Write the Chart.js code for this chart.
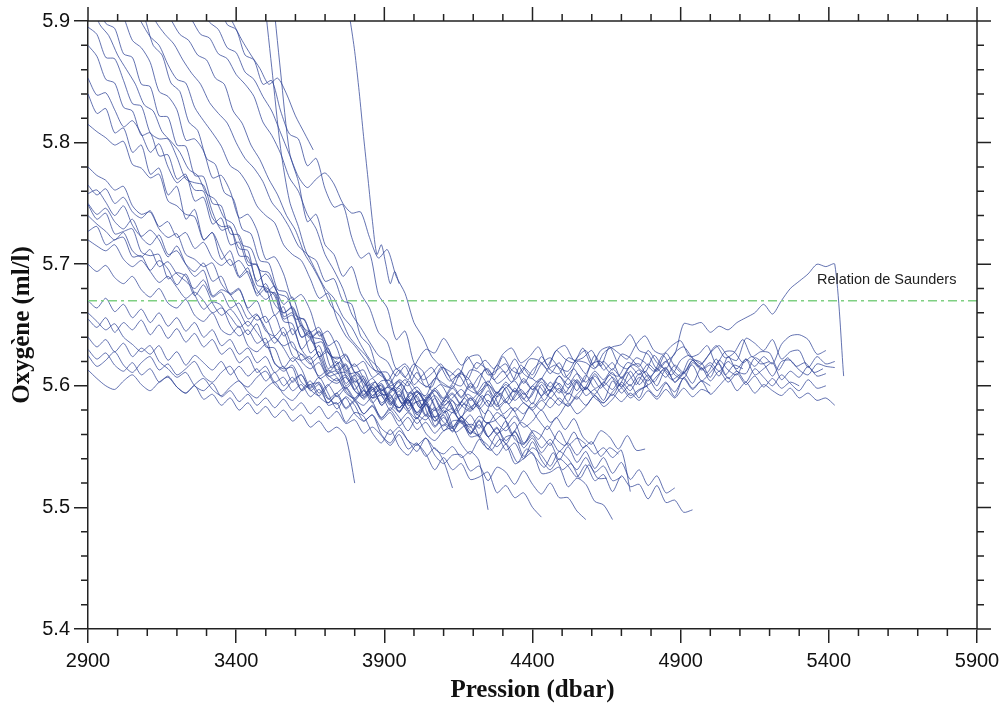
<!DOCTYPE html>
<html>
<head>
<meta charset="utf-8">
<script src="https://cdn.jsdelivr.net/npm/chart.js@4"></script>
<style>
  html, body { margin: 0; padding: 0; background: #fff; }
  canvas { display: block; }
</style>
</head>
<body>
<canvas id="chart" width="1007" height="711"></canvas>
<script>
// ── Axis ranges and ticks ───────────────────────────────
const X_MIN = 2900, X_MAX = 5900;
const Y_MIN = 5.4, Y_MAX = 5.9;
const X_TICKS = [2900, 3400, 3900, 4400, 4900, 5400, 5900];
const Y_TICKS = [5.4, 5.5, 5.6, 5.7, 5.8, 5.9];
const X_MINOR = 100;   // dbar between small ticks
const Y_MINOR = 0.02;  // ml/l between small ticks

// ── Saunders reference level ────────────────────────────
const SAUNDERS_O2 = 5.67;
const SAUNDERS_LABEL = "Relation de Saunders";
const SAUNDERS_LABEL_AT = [5360, 5.684];

// ── Oxygen profiles (ml/l), one value every STEP dbar from START ──
const oxyS01 = [5.895, 5.889, 5.870, 5.869, 5.851, 5.832, 5.830, 5.808, 5.803, 5.803, 5.788, 5.770, 5.767, 5.765, 5.743, 5.728, 5.730, 5.713, 5.711, 5.683, 5.681, 5.674, 5.653, 5.651, 5.630, 5.638, 5.623, 5.608, 5.610, 5.611, 5.601, 5.589, 5.597, 5.600, 5.586, 5.579, 5.588, 5.578, 5.587, 5.567, 5.577, 5.581, 5.569, 5.576, 5.565, 5.580, 5.570, 5.563, 5.570, 5.553, 5.562];
const oxyS02 = [5.880, 5.871, 5.852, 5.849, 5.829, 5.826, 5.806, 5.808, 5.789, 5.790, 5.770, 5.774, 5.752, 5.755, 5.733, 5.738, 5.716, 5.718, 5.699, 5.700, 5.677, 5.682, 5.657, 5.660, 5.640, 5.645, 5.624, 5.631, 5.611, 5.617, 5.597, 5.606, 5.590, 5.601, 5.585, 5.596, 5.581, 5.592, 5.576, 5.590, 5.578, 5.588, 5.574, 5.590, 5.583, 5.596, 5.584, 5.599, 5.588, 5.594, 5.585, 5.601, 5.590, 5.598, 5.587, 5.603, 5.592, 5.597, 5.588, 5.604, 5.594, 5.601, 5.590, 5.606, 5.596, 5.603, 5.591, 5.607, 5.598, 5.604, 5.600];
const oxyS03 = [5.853, 5.839, 5.841, 5.827, 5.813, 5.818, 5.807, 5.792, 5.799, 5.780, 5.767, 5.772, 5.761, 5.760, 5.738, 5.731, 5.731, 5.707, 5.706, 5.686, 5.692, 5.681, 5.667, 5.673, 5.652, 5.640, 5.645, 5.631, 5.618, 5.625, 5.611, 5.613, 5.597, 5.604, 5.604, 5.589, 5.579, 5.587, 5.575, 5.582, 5.563, 5.571, 5.571, 5.558, 5.559, 5.548, 5.560, 5.547, 5.553, 5.540, 5.554, 5.539, 5.531, 5.540, 5.534, 5.525, 5.535, 5.522, 5.527, 5.513, 5.526, 5.517, 5.519, 5.507, 5.518, 5.504, 5.506, 5.496, 5.498];
const oxyS04 = [5.840, 5.824, 5.828, 5.808, 5.812, 5.792, 5.798, 5.774, 5.779, 5.757, 5.764, 5.737, 5.745, 5.720, 5.726, 5.704, 5.711, 5.690, 5.697, 5.674, 5.680, 5.658, 5.665, 5.642, 5.650, 5.627, 5.633, 5.614, 5.620, 5.602, 5.609, 5.591, 5.599, 5.584, 5.593, 5.578, 5.588, 5.573, 5.584, 5.571, 5.580, 5.566, 5.575, 5.560, 5.571, 5.558, 5.566, 5.552, 5.563, 5.549, 5.557, 5.545, 5.553, 5.539, 5.550, 5.537, 5.546, 5.532, 5.541, 5.528, 5.537, 5.523, 5.531, 5.518, 5.526, 5.512, 5.516];
const oxyS05 = [5.780, 5.773, 5.769, 5.761, 5.764, 5.748, 5.741, 5.743, 5.729, 5.722, 5.725, 5.708, 5.704, 5.698, 5.701, 5.684, 5.676, 5.680, 5.662, 5.654, 5.657, 5.640, 5.633, 5.636, 5.620, 5.614, 5.619, 5.606, 5.602, 5.607, 5.596, 5.592, 5.601, 5.593, 5.594, 5.605, 5.600, 5.611, 5.599, 5.606, 5.615, 5.603, 5.600, 5.613, 5.611, 5.602, 5.617, 5.611, 5.622, 5.610, 5.606, 5.618, 5.623, 5.615, 5.612, 5.623, 5.629, 5.615, 5.620, 5.613, 5.626, 5.623, 5.616, 5.629, 5.619, 5.614, 5.627, 5.632, 5.623, 5.618, 5.627, 5.633, 5.624, 5.621, 5.639, 5.635, 5.629, 5.638, 5.622, 5.628, 5.629, 5.615, 5.624, 5.618, 5.620];
const oxyS06 = [5.758, 5.761, 5.751, 5.740, 5.748, 5.732, 5.723, 5.728, 5.720, 5.706, 5.715, 5.700, 5.690, 5.695, 5.674, 5.679, 5.675, 5.662, 5.649, 5.658, 5.647, 5.635, 5.644, 5.625, 5.621, 5.624, 5.606, 5.610, 5.612, 5.596, 5.589, 5.596, 5.587, 5.573, 5.582, 5.574, 5.563, 5.574, 5.561, 5.555, 5.563, 5.565, 5.552, 5.544, 5.556, 5.551, 5.543, 5.552, 5.536, 5.540, 5.545, 5.528, 5.529, 5.533, 5.517, 5.524, 5.519, 5.505, 5.502, 5.490];
const oxyS07 = [5.750, 5.741, 5.746, 5.735, 5.729, 5.737, 5.722, 5.716, 5.724, 5.708, 5.711, 5.700, 5.694, 5.701, 5.686, 5.690, 5.675, 5.679, 5.664, 5.670, 5.652, 5.658, 5.641, 5.647, 5.630, 5.622, 5.628, 5.611, 5.617, 5.600, 5.606, 5.593, 5.599, 5.584, 5.590, 5.579, 5.588, 5.576, 5.585, 5.574, 5.582, 5.578, 5.587, 5.580, 5.592, 5.583, 5.595, 5.586, 5.598, 5.589, 5.600, 5.592, 5.603, 5.594, 5.606, 5.596, 5.609, 5.598, 5.603, 5.611, 5.599, 5.606, 5.613, 5.601, 5.608, 5.615, 5.603, 5.610, 5.617, 5.604, 5.611, 5.618, 5.606, 5.612, 5.603, 5.614, 5.607, 5.600, 5.609, 5.602, 5.596, 5.605, 5.598, 5.600];
const oxyS08 = [5.749, 5.737, 5.742, 5.725, 5.727, 5.729, 5.710, 5.707, 5.708, 5.688, 5.693, 5.690, 5.674, 5.683, 5.668, 5.658, 5.663, 5.654, 5.642, 5.651, 5.632, 5.631, 5.615, 5.623, 5.614, 5.599, 5.607, 5.594, 5.581, 5.591, 5.584, 5.571, 5.576, 5.560, 5.553, 5.563, 5.555, 5.546, 5.557, 5.543, 5.536, 5.543, 5.543, 5.530, 5.534, 5.522, 5.533, 5.529, 5.519, 5.530, 5.519, 5.511, 5.520, 5.508, 5.508, 5.497, 5.490];
const oxyS09 = [5.740, 5.733, 5.727, 5.720, 5.726, 5.711, 5.706, 5.712, 5.698, 5.702, 5.692, 5.686, 5.680, 5.687, 5.673, 5.677, 5.664, 5.668, 5.655, 5.659, 5.645, 5.641, 5.648, 5.632, 5.626, 5.618, 5.624, 5.609, 5.604, 5.609, 5.596, 5.590, 5.597, 5.586, 5.592, 5.582, 5.589, 5.578, 5.585, 5.592, 5.584, 5.590, 5.597, 5.588, 5.595, 5.601, 5.591, 5.598, 5.604, 5.593, 5.600, 5.606, 5.595, 5.602, 5.593, 5.604, 5.597, 5.608, 5.599, 5.592, 5.603, 5.596, 5.607, 5.598, 5.591, 5.602, 5.595, 5.606, 5.597, 5.604, 5.593, 5.600, 5.607, 5.596, 5.603, 5.594, 5.601, 5.596, 5.592, 5.598, 5.590, 5.594, 5.588, 5.590, 5.584];
const oxyS10 = [5.727, 5.731, 5.716, 5.720, 5.722, 5.706, 5.707, 5.695, 5.703, 5.696, 5.683, 5.692, 5.675, 5.663, 5.669, 5.666, 5.650, 5.641, 5.646, 5.635, 5.639, 5.618, 5.614, 5.615, 5.596, 5.601, 5.602, 5.584, 5.586, 5.570, 5.578, 5.575, 5.561, 5.553, 5.564, 5.550, 5.543, 5.552, 5.544, 5.531, 5.541, 5.531, 5.536, 5.523, 5.525, 5.529, 5.512, 5.518, 5.508, 5.512, 5.500, 5.492];
const oxyS11 = [5.720, 5.715, 5.711, 5.716, 5.704, 5.698, 5.703, 5.694, 5.685, 5.690, 5.681, 5.672, 5.677, 5.670, 5.660, 5.664, 5.657, 5.648, 5.653, 5.644, 5.635, 5.640, 5.631, 5.620, 5.626, 5.619, 5.608, 5.613, 5.607, 5.598, 5.604, 5.597, 5.590, 5.596, 5.599, 5.591, 5.604, 5.596, 5.592, 5.606, 5.602, 5.598, 5.612, 5.598, 5.608, 5.614, 5.602, 5.607, 5.615, 5.602, 5.613, 5.619, 5.610, 5.619, 5.606, 5.620, 5.619, 5.614, 5.627, 5.632, 5.634, 5.642, 5.629, 5.626, 5.614, 5.627, 5.616, 5.610, 5.621, 5.619, 5.607, 5.621, 5.613, 5.609, 5.622, 5.609, 5.614, 5.619, 5.605, 5.612, 5.607, 5.616, 5.608, 5.610];
const oxyS12 = [5.700, 5.694, 5.699, 5.689, 5.684, 5.690, 5.679, 5.673, 5.680, 5.668, 5.664, 5.671, 5.658, 5.653, 5.660, 5.646, 5.642, 5.649, 5.633, 5.628, 5.634, 5.619, 5.612, 5.617, 5.603, 5.598, 5.603, 5.590, 5.585, 5.590, 5.577, 5.571, 5.576, 5.565, 5.560, 5.566, 5.555, 5.551, 5.557, 5.548, 5.544, 5.550, 5.541, 5.546, 5.538, 5.498];
const oxyS13 = [5.670, 5.664, 5.672, 5.661, 5.667, 5.656, 5.663, 5.652, 5.660, 5.649, 5.656, 5.645, 5.652, 5.640, 5.646, 5.633, 5.638, 5.626, 5.631, 5.619, 5.624, 5.611, 5.616, 5.603, 5.609, 5.596, 5.601, 5.589, 5.594, 5.582, 5.588, 5.577, 5.583, 5.572, 5.578, 5.567, 5.574, 5.564, 5.570, 5.561, 5.568, 5.563, 5.571, 5.566, 5.575, 5.569, 5.578, 5.573, 5.582, 5.577, 5.586, 5.580, 5.590, 5.584, 5.594, 5.589, 5.598, 5.593, 5.603, 5.597, 5.607, 5.600, 5.610, 5.604, 5.614, 5.607, 5.617, 5.611, 5.621, 5.614, 5.619, 5.612, 5.620, 5.614, 5.622, 5.616, 5.624, 5.618, 5.634, 5.641, 5.642, 5.638, 5.626, 5.629];
const oxyS14 = [5.655, 5.648, 5.656, 5.644, 5.652, 5.646, 5.654, 5.642, 5.650, 5.639, 5.647, 5.636, 5.643, 5.632, 5.638, 5.626, 5.631, 5.619, 5.624, 5.611, 5.616, 5.603, 5.607, 5.596, 5.601, 5.591, 5.597, 5.586, 5.592, 5.581, 5.587, 5.577, 5.584, 5.574, 5.580, 5.571, 5.578, 5.569, 5.576, 5.566, 5.574, 5.565, 5.572, 5.561, 5.568, 5.558, 5.565, 5.555, 5.562, 5.552, 5.559, 5.549, 5.556, 5.546, 5.553, 5.543, 5.551, 5.544, 5.549, 5.541, 5.547, 5.513];
const oxyS15 = [5.640, 5.632, 5.638, 5.628, 5.635, 5.624, 5.631, 5.626, 5.633, 5.621, 5.628, 5.617, 5.625, 5.619, 5.613, 5.620, 5.609, 5.616, 5.608, 5.614, 5.604, 5.611, 5.600, 5.607, 5.597, 5.604, 5.594, 5.601, 5.591, 5.598, 5.588, 5.596, 5.586, 5.594, 5.584, 5.593, 5.585, 5.595, 5.587, 5.596, 5.589, 5.598, 5.590, 5.600, 5.592, 5.601, 5.594, 5.603, 5.595, 5.604, 5.597, 5.606, 5.599, 5.608, 5.601, 5.610, 5.603, 5.612, 5.605, 5.614, 5.607, 5.616, 5.609, 5.618, 5.612, 5.620, 5.626, 5.651, 5.650, 5.652, 5.644, 5.649, 5.646, 5.652, 5.656, 5.660, 5.667, 5.659, 5.670, 5.680, 5.686, 5.692, 5.700, 5.698, 5.700, 5.608];
const oxyS16 = [5.625, 5.616, 5.621, 5.628, 5.617, 5.611, 5.619, 5.624, 5.613, 5.618, 5.609, 5.614, 5.620, 5.608, 5.603, 5.611, 5.616, 5.604, 5.599, 5.607, 5.612, 5.601, 5.596, 5.604, 5.609, 5.597, 5.592, 5.600, 5.606, 5.594, 5.590, 5.599, 5.606, 5.596, 5.602, 5.613, 5.605, 5.620, 5.630, 5.627, 5.639, 5.628, 5.617, 5.624, 5.625, 5.609, 5.613, 5.618, 5.605, 5.615, 5.609, 5.624, 5.613, 5.610, 5.623, 5.619, 5.610, 5.625, 5.613, 5.619, 5.606, 5.616, 5.618, 5.607, 5.613, 5.620, 5.609, 5.606, 5.619, 5.613, 5.617, 5.608, 5.624, 5.612, 5.610, 5.623, 5.618, 5.608, 5.620, 5.621, 5.613, 5.609, 5.618, 5.616, 5.615];
const oxyS17 = [5.613, 5.606, 5.600, 5.597, 5.604, 5.609, 5.601, 5.596, 5.603, 5.607, 5.599, 5.594, 5.601, 5.606, 5.597, 5.592, 5.599, 5.604, 5.595, 5.590, 5.598, 5.603, 5.593, 5.588, 5.596, 5.601, 5.591, 5.586, 5.594, 5.599, 5.589, 5.584, 5.592, 5.597, 5.587, 5.582, 5.590, 5.595, 5.585, 5.580, 5.588, 5.594, 5.584, 5.579, 5.587, 5.593, 5.583, 5.589, 5.596, 5.586, 5.582, 5.591, 5.597, 5.588, 5.584, 5.593, 5.599, 5.590, 5.586, 5.595, 5.601, 5.592, 5.597, 5.600];
const oxyS18 = [5.630, 5.622, 5.627, 5.617, 5.612, 5.619, 5.609, 5.614, 5.603, 5.608, 5.599, 5.594, 5.600, 5.589, 5.593, 5.584, 5.590, 5.580, 5.586, 5.577, 5.583, 5.574, 5.580, 5.571, 5.576, 5.566, 5.571, 5.562, 5.566, 5.558, 5.520];
const oxyS19 = [5.660, 5.653, 5.646, 5.651, 5.640, 5.634, 5.628, 5.633, 5.620, 5.614, 5.607, 5.611, 5.600, 5.596, 5.602, 5.591, 5.596, 5.587, 5.593, 5.584, 5.590, 5.582, 5.589, 5.580, 5.586, 5.577, 5.583, 5.573, 5.579, 5.569, 5.572, 5.561, 5.566, 5.559, 5.551, 5.560, 5.548, 5.553, 5.542, 5.549, 5.538, 5.516];
const oxyS20 = [5.765, 5.757, 5.762, 5.750, 5.755, 5.743, 5.738, 5.744, 5.731, 5.735, 5.722, 5.726, 5.713, 5.718, 5.705, 5.699, 5.704, 5.689, 5.694, 5.679, 5.671, 5.677, 5.660, 5.665, 5.650, 5.644, 5.648, 5.633, 5.637, 5.622, 5.616, 5.620, 5.607, 5.611, 5.600, 5.604, 5.594, 5.599, 5.590, 5.596, 5.587, 5.593, 5.584, 5.590, 5.581, 5.588, 5.580, 5.587, 5.579, 5.586, 5.580, 5.588, 5.582, 5.590, 5.583, 5.591, 5.584, 5.592, 5.586, 5.593, 5.587, 5.594, 5.588, 5.596, 5.589, 5.597, 5.590, 5.598, 5.591, 5.597, 5.594];
const oxyS21 = [5.815, 5.809, 5.804, 5.798, 5.801, 5.782, 5.779, 5.771, 5.774, 5.752, 5.748, 5.741, 5.739, 5.720, 5.726, 5.711, 5.699, 5.703, 5.692, 5.676, 5.684, 5.667, 5.660, 5.664, 5.648, 5.639, 5.644, 5.627, 5.622, 5.626, 5.611, 5.603, 5.590, 5.592, 5.580, 5.592, 5.580, 5.573, 5.585, 5.571, 5.576, 5.562, 5.574, 5.567, 5.558, 5.570, 5.560, 5.571, 5.556, 5.552, 5.563, 5.559, 5.551, 5.563, 5.551, 5.557, 5.552];
const oxyT01 = [5.915, 5.898, 5.894, 5.873, 5.870, 5.848, 5.846, 5.822, 5.821, 5.798, 5.797, 5.773, 5.772, 5.750, 5.748, 5.725, 5.724, 5.702, 5.699, 5.678, 5.676, 5.655, 5.658, 5.640, 5.643, 5.624, 5.628, 5.613, 5.618, 5.603, 5.608, 5.595, 5.602, 5.590, 5.598, 5.586, 5.596, 5.588, 5.598, 5.590, 5.600, 5.591, 5.602, 5.593, 5.604, 5.594, 5.601, 5.595, 5.606, 5.597, 5.603, 5.596, 5.608, 5.598, 5.605, 5.597, 5.610, 5.600, 5.607, 5.599, 5.612, 5.601, 5.609, 5.600, 5.614, 5.603, 5.611, 5.602, 5.615, 5.604, 5.612, 5.603, 5.610, 5.601, 5.608, 5.599, 5.606, 5.598, 5.603, 5.600];
const oxyT02 = [5.914, 5.903, 5.884, 5.878, 5.866, 5.842, 5.838, 5.827, 5.802, 5.803, 5.793, 5.771, 5.773, 5.760, 5.738, 5.741, 5.728, 5.704, 5.706, 5.692, 5.671, 5.675, 5.662, 5.641, 5.645, 5.631, 5.612, 5.618, 5.606, 5.592, 5.598, 5.588, 5.582, 5.589, 5.577, 5.572, 5.580, 5.570, 5.566, 5.574, 5.563, 5.560, 5.569, 5.561, 5.566, 5.575, 5.566, 5.571, 5.580, 5.570, 5.576, 5.586, 5.577, 5.583, 5.592, 5.583, 5.589, 5.598, 5.590, 5.596, 5.601];
const oxyT03 = [5.913, 5.899, 5.887, 5.880, 5.864, 5.852, 5.849, 5.829, 5.818, 5.808, 5.797, 5.781, 5.776, 5.765, 5.748, 5.740, 5.734, 5.716, 5.708, 5.703, 5.688, 5.672, 5.676, 5.655, 5.641, 5.633, 5.623, 5.614, 5.610, 5.597, 5.603, 5.584, 5.587, 5.588, 5.574, 5.567, 5.578, 5.570, 5.561, 5.572, 5.558, 5.550, 5.558, 5.559, 5.542, 5.549, 5.543, 5.534, 5.546, 5.540, 5.531, 5.541, 5.529, 5.534, 5.522, 5.525];
const oxyT04 = [5.915, 5.899, 5.889, 5.881, 5.868, 5.857, 5.848, 5.833, 5.824, 5.816, 5.800, 5.787, 5.779, 5.768, 5.751, 5.742, 5.730, 5.715, 5.708, 5.694, 5.680, 5.672, 5.657, 5.648, 5.634, 5.622, 5.615, 5.604, 5.614, 5.607, 5.618, 5.605, 5.610, 5.618, 5.608, 5.614, 5.605, 5.619, 5.615, 5.609, 5.624, 5.613, 5.610, 5.622, 5.621, 5.614, 5.629, 5.622, 5.619, 5.631, 5.617, 5.629, 5.632, 5.627, 5.622, 5.634, 5.641, 5.629, 5.626, 5.633, 5.637, 5.624, 5.626, 5.633, 5.618, 5.628, 5.628, 5.619, 5.624, 5.618, 5.620];
const oxyT05 = [5.912, 5.901, 5.889, 5.884, 5.872, 5.868, 5.853, 5.848, 5.826, 5.816, 5.798, 5.786, 5.770, 5.757, 5.740, 5.728, 5.709, 5.697, 5.683, 5.666, 5.657, 5.641, 5.632, 5.624, 5.612, 5.606, 5.596, 5.601, 5.588, 5.594, 5.575, 5.575, 5.579, 5.562, 5.567, 5.568, 5.553, 5.547, 5.556, 5.550, 5.537, 5.548, 5.541, 5.533, 5.545, 5.531, 5.536, 5.524, 5.535, 5.524, 5.524];
const oxyT06 = [5.910, 5.901, 5.889, 5.886, 5.873, 5.869, 5.856, 5.848, 5.838, 5.817, 5.806, 5.791, 5.771, 5.760, 5.741, 5.729, 5.708, 5.695, 5.680, 5.659, 5.648, 5.636, 5.625, 5.620, 5.608, 5.616, 5.601, 5.609, 5.615, 5.602, 5.599, 5.610, 5.607, 5.598, 5.614, 5.605, 5.612, 5.603, 5.617, 5.608, 5.603, 5.613, 5.617, 5.607, 5.614, 5.603, 5.618, 5.620, 5.611, 5.608, 5.619, 5.616, 5.611, 5.625, 5.615, 5.609, 5.621, 5.625, 5.616, 5.624, 5.633, 5.623, 5.627, 5.638, 5.624, 5.628, 5.627, 5.613, 5.623, 5.616, 5.619, 5.611, 5.614];
const oxyT07 = [5.912, 5.899, 5.893, 5.878, 5.874, 5.858, 5.852, 5.838, 5.826, 5.808, 5.790, 5.772, 5.763, 5.770, 5.775, 5.766, 5.750, 5.742, 5.743, 5.722, 5.705, 5.712, 5.690, 5.676, 5.652, 5.640, 5.624, 5.616, 5.604, 5.609, 5.598, 5.594, 5.603, 5.591, 5.599, 5.588, 5.597, 5.590, 5.600, 5.592, 5.603, 5.594, 5.605, 5.596, 5.607, 5.598, 5.609, 5.600, 5.611, 5.601, 5.612, 5.603, 5.613, 5.605, 5.610];
const oxyT08 = [5.912, 5.898, 5.884, 5.872, 5.861, 5.848, 5.853, 5.840, 5.822, 5.808, 5.794];
const oxyT09 = [5.930, 5.862, 5.795, 5.752, 5.731, 5.708, 5.703, 5.686, 5.688, 5.670, 5.667, 5.641, 5.633, 5.612, 5.611, 5.598, 5.605, 5.594, 5.584, 5.595, 5.581, 5.587, 5.573, 5.580, 5.585, 5.570, 5.571, 5.576, 5.560, 5.570, 5.565, 5.556, 5.567, 5.556, 5.551, 5.562, 5.549, 5.554, 5.542, 5.549, 5.544];
const oxyT10 = [5.930, 5.858, 5.792, 5.768, 5.735, 5.741, 5.716, 5.708, 5.690, 5.698, 5.676, 5.664, 5.644, 5.636, 5.614, 5.618, 5.608, 5.601, 5.599, 5.615, 5.612, 5.607, 5.624, 5.614, 5.621, 5.614, 5.626, 5.631, 5.619, 5.624, 5.632, 5.617, 5.629, 5.633, 5.621, 5.623, 5.629, 5.616, 5.632, 5.618, 5.614, 5.623, 5.619, 5.612, 5.625, 5.614, 5.608, 5.622, 5.617, 5.611, 5.622, 5.609, 5.617, 5.614];
const oxyT11 = [5.920, 5.900, 5.875, 5.842, 5.805, 5.770, 5.735, 5.708, 5.716, 5.700, 5.684, 5.694, 5.684];
const oxyT12 = [5.914, 5.903, 5.880, 5.872, 5.849, 5.842, 5.817, 5.810, 5.787, 5.782, 5.759, 5.754, 5.729, 5.725, 5.703, 5.701, 5.679, 5.677, 5.655, 5.655, 5.635, 5.636, 5.615, 5.619, 5.604, 5.610, 5.595, 5.603, 5.589, 5.598, 5.585, 5.595, 5.582, 5.593, 5.580, 5.591, 5.579, 5.590, 5.581, 5.592, 5.583, 5.594, 5.585, 5.596, 5.587, 5.598, 5.588, 5.599, 5.594];
const oxyT13 = [5.915, 5.897, 5.893, 5.872, 5.868, 5.848, 5.851, 5.826, 5.807, 5.803, 5.781, 5.787, 5.762, 5.747, 5.749, 5.722, 5.705, 5.709, 5.675, 5.664, 5.638, 5.645, 5.619, 5.612, 5.596, 5.601, 5.590, 5.584, 5.593, 5.587, 5.577, 5.591, 5.577, 5.582, 5.571, 5.582, 5.572, 5.564, 5.574, 5.564, 5.573, 5.558, 5.552, 5.563, 5.558, 5.548, 5.559, 5.547, 5.548];
const oxyT14 = [5.915, 5.897, 5.888, 5.872, 5.860, 5.848, 5.831, 5.826, 5.809, 5.801, 5.792, 5.778, 5.773, 5.758, 5.753, 5.738, 5.733, 5.716, 5.713, 5.695, 5.693, 5.676, 5.673, 5.658, 5.654, 5.640, 5.638, 5.624, 5.623, 5.610, 5.611, 5.600, 5.603, 5.592, 5.598, 5.586, 5.594, 5.582, 5.591, 5.579, 5.588, 5.577, 5.585, 5.580];

// [start pressure (dbar), step (dbar), values]
const PROFILES = [
  [2900, 30, oxyS01], [2900, 30, oxyS02], [2900, 30, oxyS03], [2900, 30, oxyS04],
  [2900, 30, oxyS05], [2900, 30, oxyS06], [2900, 30, oxyS07], [2900, 30, oxyS08],
  [2900, 30, oxyS09], [2900, 30, oxyS10], [2900, 30, oxyS11], [2900, 30, oxyS12],
  [2900, 30, oxyS13], [2900, 30, oxyS14], [2900, 30, oxyS15], [2900, 30, oxyS16],
  [2900, 30, oxyS17], [2900, 30, oxyS18], [2900, 30, oxyS19], [2900, 30, oxyS20],
  [2900, 30, oxyS21],
  [2930, 30, oxyT01], [2990, 30, oxyT02], [3050, 30, oxyT03], [3100, 30, oxyT04],
  [3150, 30, oxyT05], [3220, 30, oxyT06], [3280, 30, oxyT07], [3360, 30, oxyT08],
  [3490, 30, oxyT09], [3520, 30, oxyT10], [3770, 15, oxyT11], [3060, 30, oxyT12],
  [3340, 30, oxyT13], [2910, 30, oxyT14]
];

// ── Style ────────────────────────────────────────────────
const PROFILE_COLOR = "rgba(46,66,150,0.74)";
const SAUNDERS_COLOR = "#7fcf82";
const AXIS_COLOR = "#222";
const SANS = "'Liberation Sans', Arial, Helvetica, sans-serif";
const SERIF = "'Liberation Serif', 'Times New Roman', serif";

// ── Frame, minor ticks and the label of the reference line ──
const framePlugin = {
  id: "frame",
  afterDraw(chart) {
    const { ctx, chartArea: { left, right, top, bottom }, scales: { x, y } } = chart;
    ctx.save();
    ctx.strokeStyle = AXIS_COLOR;
    ctx.lineWidth = 1.5;
    ctx.beginPath();
    ctx.moveTo(left, top);
    ctx.lineTo(right, top);
    ctx.lineTo(right, bottom);

    const nx = Math.round((X_MAX - X_MIN) / X_MINOR);
    for (let i = 0; i <= nx; i++) {
      const px = x.getPixelForValue(X_MIN + i * X_MINOR);
      const major = i % 5 === 0;
      ctx.moveTo(px, top);
      ctx.lineTo(px, top - (major ? 14 : 7));
      if (!major) {
        ctx.moveTo(px, bottom);
        ctx.lineTo(px, bottom + 7);
      }
    }
    const ny = Math.round((Y_MAX - Y_MIN) / Y_MINOR);
    for (let i = 0; i <= ny; i++) {
      const py = y.getPixelForValue(Y_MIN + i * Y_MINOR);
      const major = i % 5 === 0;
      ctx.moveTo(right, py);
      ctx.lineTo(right + (major ? 14 : 7), py);
      if (!major) {
        ctx.moveTo(left, py);
        ctx.lineTo(left - 7, py);
      }
    }
    ctx.stroke();

    // label of the Saunders line
    ctx.fillStyle = "#222";
    ctx.font = "14.5px " + SANS;
    ctx.textAlign = "left";
    ctx.textBaseline = "alphabetic";
    ctx.fillText(SAUNDERS_LABEL,
      x.getPixelForValue(SAUNDERS_LABEL_AT[0]),
      y.getPixelForValue(SAUNDERS_LABEL_AT[1]));
    ctx.restore();
  }
};

// ── Datasets ─────────────────────────────────────────────
const datasets = [{
  label: SAUNDERS_LABEL,
  data: [{ x: X_MIN, y: SAUNDERS_O2 }, { x: X_MAX, y: SAUNDERS_O2 }],
  borderColor: SAUNDERS_COLOR,
  borderWidth: 1.6,
  borderDash: [9, 4, 3, 4],
  pointRadius: 0
}];

PROFILES.forEach(([start, step, values], idx) => {
  datasets.push({
    label: "Profil " + (idx + 1),
    data: values.map((v, i) => ({ x: start + i * step, y: v })),
    borderColor: PROFILE_COLOR,
    borderWidth: 1,
    tension: 0.25,
    pointRadius: 0
  });
});

const tickFont = { family: SANS, size: 20 };
const titleFont = { family: SERIF, size: 25, weight: "bold" };

new Chart(document.getElementById("chart"), {
  type: "line",
  data: { datasets },
  options: {
    responsive: false,
    animation: false,
    events: [],
    layout: { padding: { top: 21, right: 30, left: 0, bottom: 0 } },
    plugins: {
      legend: { display: false },
      tooltip: { enabled: false }
    },
    scales: {
      x: {
        type: "linear",
        min: X_MIN,
        max: X_MAX,
        afterFit: s => { s.height = 82; },
        afterBuildTicks: s => { s.ticks = X_TICKS.map(v => ({ value: v })); },
        ticks: {
          color: "#111",
          font: tickFont,
          padding: 6,
          maxRotation: 0,
          autoSkip: false,
          callback: v => String(v)
        },
        grid: {
          display: true,
          drawOnChartArea: false,
          drawTicks: true,
          tickLength: 14,
          color: AXIS_COLOR,
          lineWidth: 1.5
        },
        border: { display: true, color: AXIS_COLOR, width: 1.5 },
        title: {
          display: true,
          text: "Pression (dbar)",
          color: "#111",
          font: titleFont,
          padding: { top: 0, bottom: 5 }
        }
      },
      y: {
        type: "linear",
        min: Y_MIN,
        max: Y_MAX,
        afterFit: s => { s.width = 88; },
        afterBuildTicks: s => { s.ticks = Y_TICKS.map(v => ({ value: v })); },
        ticks: {
          color: "#111",
          font: tickFont,
          padding: 4,
          autoSkip: false,
          callback: v => v.toFixed(1)
        },
        grid: {
          display: true,
          drawOnChartArea: false,
          drawTicks: true,
          tickLength: 14,
          color: AXIS_COLOR,
          lineWidth: 1.5
        },
        border: { display: true, color: AXIS_COLOR, width: 1.5 },
        title: {
          display: true,
          text: "Oxygène (ml/l)",
          color: "#111",
          font: titleFont,
          padding: { top: 8, bottom: 0 }
        }
      }
    }
  },
  plugins: [framePlugin]
});
</script>
</body>
</html>
